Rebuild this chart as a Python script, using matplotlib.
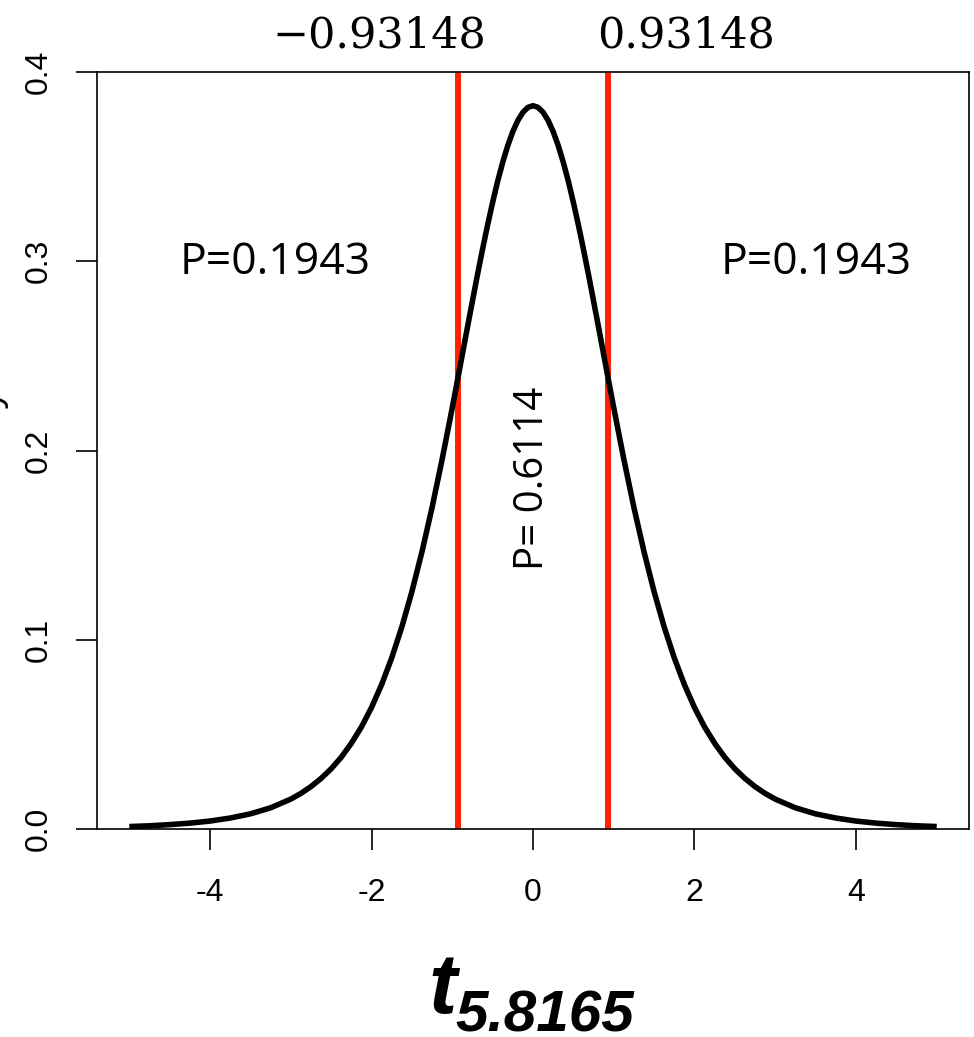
import matplotlib
matplotlib.use("Agg")
import matplotlib.pyplot as plt

# density of t with 5.8165 df
t_values = [
    -5.0, -4.75, -4.5, -4.25, -4.0, -3.75, -3.5, -3.25, -3.0, -2.875,
    -2.75, -2.625, -2.5, -2.375, -2.25, -2.125, -2.0, -1.875, -1.75,
    -1.625, -1.5, -1.375, -1.25, -1.125, -1.0, -0.9375, -0.875, -0.8125,
    -0.75, -0.6875, -0.625, -0.5625, -0.5, -0.4375, -0.375, -0.3125,
    -0.25, -0.1875, -0.125, -0.0625, 0.0, 0.0625, 0.125, 0.1875, 0.25,
    0.3125, 0.375, 0.4375, 0.5, 0.5625, 0.625, 0.6875, 0.75, 0.8125,
    0.875, 0.9375, 1.0, 1.125, 1.25, 1.375, 1.5, 1.625, 1.75, 1.875, 2.0,
    2.125, 2.25, 2.375, 2.5, 2.625, 2.75, 2.875, 3.0, 3.25, 3.5, 3.75,
    4.0, 4.25, 4.5, 4.75, 5.0,
]
density = [
    0.0013, 0.0017, 0.0023, 0.0031, 0.0042, 0.0058, 0.0080, 0.0112, 0.0158,
    0.0188, 0.0224, 0.0267, 0.0318, 0.0379, 0.0453, 0.0539, 0.0642, 0.0763,
    0.0904, 0.1067, 0.1254, 0.1465, 0.1699, 0.1954, 0.2226, 0.2366, 0.2508,
    0.2650, 0.2790, 0.2929, 0.3063, 0.3191, 0.3311, 0.3423, 0.3523, 0.3611,
    0.3685, 0.3744, 0.3787, 0.3813, 0.3822, 0.3813, 0.3787, 0.3744, 0.3685,
    0.3611, 0.3523, 0.3423, 0.3311, 0.3191, 0.3063, 0.2929, 0.2790, 0.2650,
    0.2508, 0.2366, 0.2226, 0.1954, 0.1699, 0.1465, 0.1254, 0.1067, 0.0904,
    0.0763, 0.0642, 0.0539, 0.0453, 0.0379, 0.0318, 0.0267, 0.0224, 0.0188,
    0.0158, 0.0112, 0.0080, 0.0058, 0.0042, 0.0031, 0.0023, 0.0017, 0.0013,
]
critical = [-0.93148, 0.93148]
critical_labels = ["\u22120.93148", "0.93148"]
tail_p = "P=0.1943"
centre_p = "P= 0.6114"
x_ticks = [-4, -2, 0, 2, 4]
y_ticks = [0.0, 0.1, 0.2, 0.3, 0.4]

W, H = 974, 1037
fig = plt.figure(figsize=(W / 100, H / 100), dpi=100)
ax = fig.add_axes([97 / W, 1 - 829 / H, (969 - 97) / W, (829 - 72) / H])

ax.plot(t_values, density, color="black", lw=4.0, solid_capstyle="butt",
        solid_joinstyle="round", zorder=3)
for value in critical:
    ax.axvline(value, color="#ff2200", lw=4.3, zorder=2)

ax.set_xlim(-5.4, 5.4)
ax.set_ylim(0.0, 0.4)
tick_font = dict(family="Liberation Sans", fontsize=23)
ax.set_xticks(x_ticks, [str(v) for v in x_ticks], **tick_font)
ax.set_yticks(y_ticks, [f"{v:.1f}" for v in y_ticks], rotation=90,
              va="center", **tick_font)
ax.tick_params(axis="both", length=15, width=1.2, color="black")
ax.tick_params(axis="x", pad=20)
ax.tick_params(axis="y", pad=16)
for spine in ax.spines.values():
    spine.set_linewidth(1.2)

# annotations
serif = dict(family="DejaVu Serif", size=31, ha="center", va="baseline")
ax.text(-1.90, 0.4132, critical_labels[0], clip_on=False, **serif)
ax.text(1.90, 0.4132, critical_labels[1], clip_on=False, **serif)
sans = dict(family="Open Sans", ha="center", va="center")
ax.text(-3.19, 0.299, tail_p, size=32, **sans)
ax.text(3.51, 0.299, tail_p, size=32, **sans)
ax.text(0.0, 0.1855, centre_p, rotation=90, size=29, **sans)

# x label: bold italic t with subscript degrees of freedom
bi = dict(family="Liberation Sans", weight="bold", style="italic",
          va="baseline", ha="left")
fig.text(428 / W, 1 - 1013 / H, "t", size=61, **bi)
fig.text(455 / W, 1 - 1031 / H, "5.8165", size=42, **bi)
# y label, mostly cut off at the left edge as in the original
fig.text(-30 / W, 1 - 450 / H, "Density", size=28, rotation=90,
         family="Liberation Sans", ha="left", va="center")

fig.savefig("out.png", dpi=100)
